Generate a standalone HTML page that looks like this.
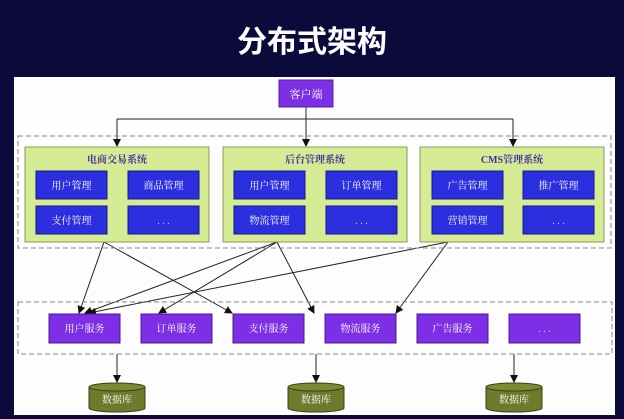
<!DOCTYPE html>
<html><head><meta charset="utf-8"><style>
body{margin:0;background:#0b0a3a;width:624px;height:419px;overflow:hidden}
svg{display:block}
text{font-family:"Liberation Serif","Noto Serif CJK SC",serif}
</style></head><body>
<svg width="624" height="419" viewBox="0 0 624 419" xmlns="http://www.w3.org/2000/svg">
<defs><marker id="a" markerWidth="8" markerHeight="8" refX="7" refY="4" orient="auto" markerUnits="userSpaceOnUse"><path d="M0,0 L8,4 L0,8z" fill="#111"/></marker></defs>
<rect width="624" height="419" fill="#0b0a3a"/>
<text x="312" y="52" text-anchor="middle" fill="#fff" font-size="30" font-weight="bold" style="font-family:'Noto Sans CJK SC',sans-serif">分布式架构</text>
<rect x="14" y="77" width="601" height="338" fill="#fdfdfd"/>
<g stroke="#222" stroke-width="1" fill="none">
<path d="M306,107 V146" marker-end="url(#a)"/>
<path d="M117,119 H513"/>
<path d="M117,119 V146" marker-end="url(#a)"/>
<path d="M513,119 V146" marker-end="url(#a)"/>
<path d="M104,242 L79,313" marker-end="url(#a)"/>
<path d="M104,242 L232,313" marker-end="url(#a)"/>
<path d="M277,242 L85,313" marker-end="url(#a)"/>
<path d="M277,242 L159,313" marker-end="url(#a)"/>
<path d="M277,242 L314,313" marker-end="url(#a)"/>
<path d="M448,242 L89,313" marker-end="url(#a)"/>
<path d="M448,242 L396,313" marker-end="url(#a)"/>
<path d="M117,354 V382" marker-end="url(#a)"/>
<path d="M316,354 V382" marker-end="url(#a)"/>
<path d="M514,354 V382" marker-end="url(#a)"/>
</g>
<rect x="18" y="136" width="593" height="112" fill="none" stroke="#888" stroke-dasharray="5,3"/>
<rect x="18" y="302" width="594" height="52" fill="none" stroke="#888" stroke-dasharray="5,3"/>
<rect x="279" y="80" width="54" height="27" fill="#7d2fe6" stroke="#5a1aa8"/>
<text x="306" y="98" text-anchor="middle" fill="#fff" font-size="11">客户端</text>
<g font-size="10" text-anchor="middle">
<g>
<rect x="25" y="147" width="184" height="95" fill="#d5ec95" stroke="#8a9a60"/>
<text x="117" y="163" fill="#4b2aa0" font-weight="bold">电商交易系统</text>
<rect x="36" y="171" width="71" height="28" fill="#2b2fe0" stroke="#15188a"/><text x="71.5" y="189" fill="#fff">用户管理</text>
<rect x="128" y="171" width="71" height="28" fill="#2b2fe0" stroke="#15188a"/><text x="163.5" y="189" fill="#fff">商品管理</text>
<rect x="36" y="206" width="71" height="28" fill="#2b2fe0" stroke="#15188a"/><text x="71.5" y="224" fill="#fff">支付管理</text>
<rect x="128" y="206" width="71" height="28" fill="#2b2fe0" stroke="#15188a"/><text x="163.5" y="224" fill="#ccc">. . .</text>
</g>
<g>
<rect x="223" y="147" width="184" height="95" fill="#d5ec95" stroke="#8a9a60"/>
<text x="315" y="163" fill="#4b2aa0" font-weight="bold">后台管理系统</text>
<rect x="234" y="171" width="71" height="28" fill="#2b2fe0" stroke="#15188a"/><text x="269.5" y="189" fill="#fff">用户管理</text>
<rect x="326" y="171" width="71" height="28" fill="#2b2fe0" stroke="#15188a"/><text x="361.5" y="189" fill="#fff">订单管理</text>
<rect x="234" y="206" width="71" height="28" fill="#2b2fe0" stroke="#15188a"/><text x="269.5" y="224" fill="#fff">物流管理</text>
<rect x="326" y="206" width="71" height="28" fill="#2b2fe0" stroke="#15188a"/><text x="361.5" y="224" fill="#ccc">. . .</text>
</g>
<g>
<rect x="420" y="147" width="184" height="95" fill="#d5ec95" stroke="#8a9a60"/>
<text x="512" y="163" fill="#4b2aa0" font-weight="bold">CMS管理系统</text>
<rect x="432" y="171" width="71" height="28" fill="#2b2fe0" stroke="#15188a"/><text x="467.5" y="189" fill="#fff">广告管理</text>
<rect x="523" y="171" width="71" height="28" fill="#2b2fe0" stroke="#15188a"/><text x="558.5" y="189" fill="#fff">推广管理</text>
<rect x="432" y="206" width="71" height="28" fill="#2b2fe0" stroke="#15188a"/><text x="467.5" y="224" fill="#fff">营销管理</text>
<rect x="523" y="206" width="71" height="28" fill="#2b2fe0" stroke="#15188a"/><text x="558.5" y="224" fill="#ccc">. . .</text>
</g>
<g fill="#fff">
<rect x="49" y="314" width="71" height="29" fill="#7d2fe6" stroke="#4a1a90"/><text x="84.5" y="332">用户服务</text>
<rect x="141" y="314" width="71" height="29" fill="#7d2fe6" stroke="#4a1a90"/><text x="176.5" y="332">订单服务</text>
<rect x="233" y="314" width="71" height="29" fill="#7d2fe6" stroke="#4a1a90"/><text x="268.5" y="332">支付服务</text>
<rect x="325" y="314" width="71" height="29" fill="#7d2fe6" stroke="#4a1a90"/><text x="360.5" y="332">物流服务</text>
<rect x="417" y="314" width="71" height="29" fill="#7d2fe6" stroke="#4a1a90"/><text x="452.5" y="332">广告服务</text>
<rect x="509" y="314" width="71" height="29" fill="#7d2fe6" stroke="#4a1a90"/><text x="544.5" y="332" fill="#ccc">. . .</text>
</g>
<g stroke="#3a4010">
<path d="M89,387 V408 A28,4 0 0 0 145,408 V387" fill="#6e7a2c"/><ellipse cx="117" cy="387" rx="28" ry="4" fill="#7d8a35"/>
<path d="M288,387 V408 A28,4 0 0 0 344,408 V387" fill="#6e7a2c"/><ellipse cx="316" cy="387" rx="28" ry="4" fill="#7d8a35"/>
<path d="M486,387 V408 A28,4 0 0 0 542,408 V387" fill="#6e7a2c"/><ellipse cx="514" cy="387" rx="28" ry="4" fill="#7d8a35"/>
</g>
<text x="117" y="403" fill="#fff">数据库</text>
<text x="316" y="403" fill="#fff">数据库</text>
<text x="514" y="403" fill="#fff">数据库</text>
</g>
</svg>
</body></html>
